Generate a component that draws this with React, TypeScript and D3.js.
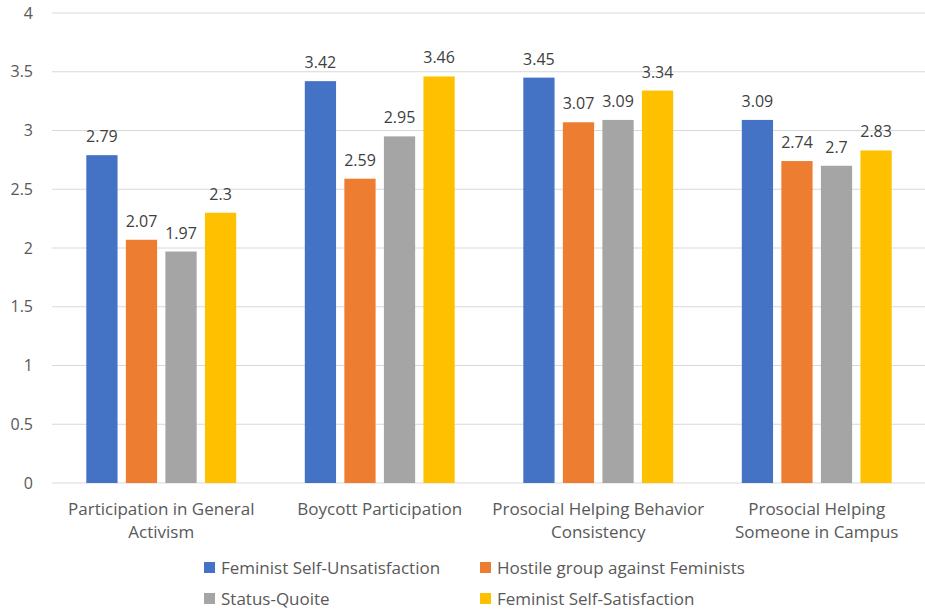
import React from 'react';
import * as d3 from 'd3';

const categories = [
  ['Participation in General', 'Activism'],
  ['Boycott Participation'],
  ['Prosocial Helping Behavior', 'Consistency'],
  ['Prosocial Helping', 'Someone in Campus'],
];
const seriesNames = [
  'Feminist Self-Unsatisfaction',
  'Hostile group against Feminists',
  'Status-Quoite',
  'Feminist Self-Satisfaction',
];
const seriesColors = ['#4472C4', '#ED7D31', '#A5A5A5', '#FFC000'];
const unsatisfied = [2.79, 3.42, 3.45, 3.09];
const hostile = [2.07, 2.59, 3.07, 2.74];
const statusQuo = [1.97, 2.95, 3.09, 2.7];
const satisfied = [2.3, 3.46, 3.34, 2.83];
const yTicks = [0, 0.5, 1, 1.5, 2, 2.5, 3, 3.5, 4];

const values = [unsatisfied, hostile, statusQuo, satisfied];
const W = 925;
const H = 614;
const font = '"Open Sans", "Noto Sans", sans-serif';

const App = () => {
  const x0 = d3.scaleBand<number>()
    .domain(categories.map((_, i) => i))
    .range([52, 926])
    .paddingInner(0.314)
    .paddingOuter(0.157);
  const x1 = d3.scaleBand<number>()
    .domain(seriesNames.map((_, i) => i))
    .range([0, x0.bandwidth()])
    .paddingInner(0.21);
  const y = d3.scaleLinear().domain([0, 4]).range([483, 13]);

  return (
    <svg width={W} height={H} style={{ position: 'absolute', left: 0, top: 0 }} fontFamily={font}>
      <rect width={W} height={H} fill="#fff" />
      {/* grid + y labels */}
      {yTicks.map((t) => (
        <g key={t}>
          <line x1={52} x2={W} y1={y(t)} y2={y(t)} stroke="#D9D9D9" strokeWidth={1} />
          <text x={33} y={y(t)} dy="0.35em" textAnchor="end" fontSize={16} fill="#595959">{t}</text>
        </g>
      ))}
      {/* bars */}
      {categories.map((_, ci) => (
        <g key={ci} transform={`translate(${x0(ci)},0)`}>
          {values.map((vals, si) => (
            <g key={si}>
              <rect x={x1(si)} y={y(vals[ci])} width={x1.bandwidth()} height={y(0) - y(vals[ci])} fill={seriesColors[si]} />
              <text x={(x1(si) ?? 0) + x1.bandwidth() / 2} y={y(vals[ci]) - 13} textAnchor="middle" fontSize={16} fill="#404040">
                {vals[ci]}
              </text>
            </g>
          ))}
        </g>
      ))}
      {/* category labels */}
      {categories.map((lines, ci) => (
        <text key={ci} x={(x0(ci) ?? 0) + x0.bandwidth() / 2} y={515} textAnchor="middle" fontSize={17} fill="#595959">
          {lines.map((l, li) => (
            <tspan key={li} x={(x0(ci) ?? 0) + x0.bandwidth() / 2} dy={li === 0 ? 0 : 23}>{l}</tspan>
          ))}
        </text>
      ))}
      {/* legend */}
      {seriesNames.map((name, si) => {
        const lx = si % 2 === 0 ? 204 : 480;
        const ly = si < 2 ? 568 : 599;
        return (
          <g key={name}>
            <rect x={lx} y={ly - 6} width={11} height={11} fill={seriesColors[si]} />
            <text x={lx + 17} y={ly} dy="0.35em" fontSize={17} fill="#595959">{name}</text>
          </g>
        );
      })}
    </svg>
  );
};

export default App;
